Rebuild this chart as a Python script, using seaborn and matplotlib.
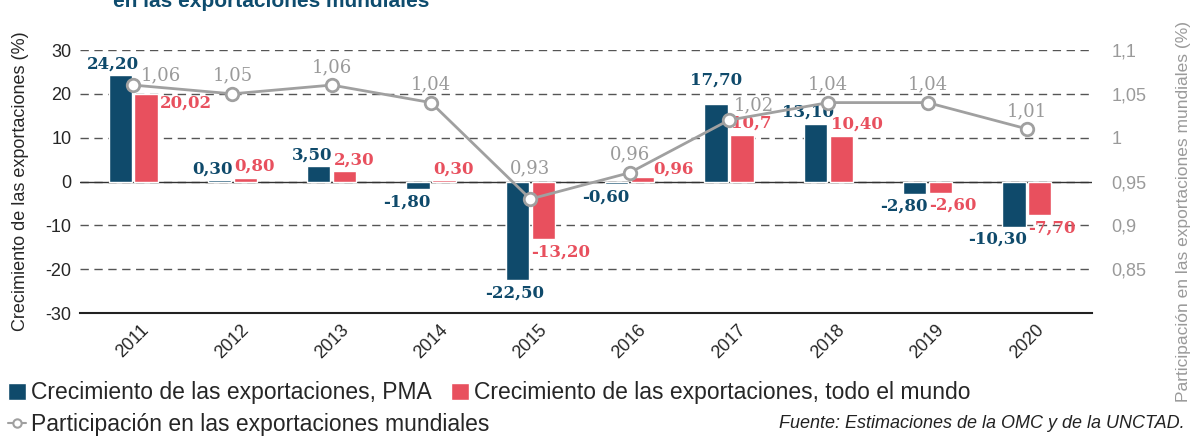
import pandas as pd
import numpy as np
import matplotlib
matplotlib.use("Agg")
import matplotlib.pyplot as plt
import seaborn as sns
from matplotlib.patches import Patch
from matplotlib.lines import Line2D

# Datos
anios = ["2011", "2012", "2013", "2014", "2015", "2016", "2017", "2018", "2019", "2020"]
crec_pma = [24.20, 0.30, 3.50, -1.80, -22.50, -0.60, 17.70, 13.10, -2.80, -10.30]
crec_mundo = [20.02, 0.80, 2.30, 0.30, -13.20, 0.96, 10.7, 10.40, -2.60, -7.70]
etiq_pma = ["24,20", "0,30", "3,50", "-1,80", "-22,50", "-0,60", "17,70", "13,10", "-2,80", "-10,30"]
etiq_mundo = ["20,02", "0,80", "2,30", "0,30", "-13,20", "0,96", "10,7", "10,40", "-2,60", "-7,70"]
participacion = [1.06, 1.05, 1.06, 1.04, 0.93, 0.96, 1.02, 1.04, 1.04, 1.01]
etiq_part = ["1,06", "1,05", "1,06", "1,04", "0,93", "0,96", "1,02", "1,04", "1,04", "1,01"]

serie_pma = "Crecimiento de las exportaciones, PMA"
serie_mundo = "Crecimiento de las exportaciones, todo el mundo"
serie_part = "Participación en las exportaciones mundiales"

AZUL = "#0f4a6b"
ROJO = "#e8505e"
GRIS = "#a0a0a0"
GRIS_TXT = "#9a9a9a"

df = pd.DataFrame({
    "anio": anios * 2,
    "serie": [serie_pma] * len(anios) + [serie_mundo] * len(anios),
    "valor": crec_pma + crec_mundo,
})

sns.set_style("white")
plt.rcParams["font.family"] = ["Liberation Sans", "DejaVu Sans"]

fig = plt.figure(figsize=(11.9, 4.37), dpi=100)
ax = fig.add_axes([80 / 1190, 124 / 437, 1012 / 1190, 263 / 437])

sns.barplot(data=df, x="anio", y="valor", hue="serie", order=anios,
            hue_order=[serie_pma, serie_mundo], palette=[AZUL, ROJO],
            saturation=1, width=0.52, gap=0.1, ax=ax, legend=False, zorder=2)

ax.set_ylim(-30, 30)
ax.set_yticks([-30, -20, -10, 0, 10, 20, 30])
ax.set_yticklabels(["-30", "-20", "-10", "0", "10", "20", "30"])
ax.set_axisbelow(True)
ax.yaxis.grid(True, linestyle=(0, (6, 4)), color="#555555", linewidth=1)
ax.axhline(0, color="#333333", linewidth=1, zorder=1.5)
for s in ["top", "left", "right"]:
    ax.spines[s].set_visible(False)
ax.spines["bottom"].set_color("#222222")
ax.spines["bottom"].set_linewidth(1.5)
ax.tick_params(axis="y", length=0, labelsize=13, pad=6)
ax.tick_params(axis="x", direction="inout", length=8, width=1.5, color="#222222",
               labelsize=13, pad=2, labelrotation=45)
ax.set_xlabel("")
ax.set_ylabel("Crecimiento de las exportaciones (%)", fontsize=13, labelpad=12)

# Etiquetas de barras
cont_pma, cont_mundo = ax.containers[0], ax.containers[1]
fuente_etq = dict(family="DejaVu Serif", fontweight="bold", fontsize=12)

ajuste_pma = {"2017": (7, 12), "2015": (14, 0)}
for i, bar in enumerate(cont_pma):
    v = crec_pma[i]
    dx, dy = ajuste_pma.get(anios[i], (0, 0))
    if v >= 0:
        ax.annotate(etiq_pma[i], (bar.get_x() + bar.get_width() / 2, v),
                    xytext=(-7 + dx, 3 + dy), textcoords="offset pixels",
                    ha="center", va="bottom", color=AZUL, **fuente_etq)
    else:
        ax.annotate(etiq_pma[i], (bar.get_x() + bar.get_width(), v),
                    xytext=(1 + dx, -4 + dy), textcoords="offset pixels",
                    ha="right", va="top", color=AZUL, **fuente_etq)

for i, bar in enumerate(cont_mundo):
    v = crec_mundo[i]
    if anios[i] == "2011":
        ax.annotate(etiq_mundo[i], (bar.get_x() + bar.get_width(), v),
                    xytext=(2, -1), textcoords="offset pixels",
                    ha="left", va="top", color=ROJO, **fuente_etq)
    elif anios[i] == "2016":
        ax.annotate(etiq_mundo[i], (bar.get_x() + bar.get_width(), v),
                    xytext=(-1, 0), textcoords="offset pixels",
                    ha="left", va="bottom", color=ROJO, **fuente_etq)
    elif v >= 0:
        ax.annotate(etiq_mundo[i], (bar.get_x(), v),
                    xytext=(1, 3), textcoords="offset pixels",
                    ha="left", va="bottom", color=ROJO, **fuente_etq)
    else:
        ax.annotate(etiq_mundo[i], (bar.get_x(), v),
                    xytext=(0, -4), textcoords="offset pixels",
                    ha="left", va="top", color=ROJO, **fuente_etq)

# Eje secundario: participación
ax2 = ax.twinx()
sns.lineplot(x=np.arange(len(anios)), y=participacion, ax=ax2, color=GRIS,
             linewidth=2, marker="o", markersize=9, markerfacecolor="white",
             markeredgecolor=GRIS, markeredgewidth=2, zorder=4)
ax2.set_ylim(0.8, 1.1)
ax2.set_yticks([0.85, 0.9, 0.95, 1.0, 1.05, 1.1])
ax2.set_yticklabels(["0,85", "0,9", "0,95", "1", "1,05", "1,1"])
ax2.tick_params(axis="y", length=0, labelsize=13, labelcolor=GRIS_TXT, pad=14)
for s in ax2.spines.values():
    s.set_visible(False)
ax2.set_ylabel("Participación en las exportaciones mundiales (%)", fontsize=12.5,
               color=GRIS_TXT)
ax2.yaxis.set_label_coords(1.083, 0.385)

ajuste_part = {"2011": (28, -8), "2017": (25, -3), "2015": (0, 13)}
for i, p in enumerate(participacion):
    dx, dy = ajuste_part.get(anios[i], (0, 0))
    ax2.annotate(etiq_part[i], (i, p), xytext=(dx, 9 + dy),
                 textcoords="offset pixels", ha="center", va="bottom",
                 color=GRIS_TXT, family="DejaVu Serif", fontsize=13)

ax.set_xlim(-0.534, 9.655)

# Título (recortado en la parte superior, como en el original)
fig.text(0.228, 1 - 7 / 437, "en las exportaciones mundiales", ha="center",
         va="baseline", fontsize=15, fontweight="bold", color="#0e4c6e")

# Leyenda
h1 = [Patch(facecolor=AZUL), Patch(facecolor=ROJO)]
fig.legend(h1, [serie_pma, serie_mundo], loc="center left",
           bbox_to_anchor=(8 / 1190, 1 - 393 / 437), ncol=2, frameon=False,
           fontsize=16.5, handlelength=0.8, handleheight=0.8, handletextpad=0.2,
           columnspacing=0.85, borderaxespad=0, borderpad=0)
h2 = [Line2D([], [], color=GRIS, linewidth=1.5, marker="o", markersize=6,
             markerfacecolor="white", markeredgecolor=GRIS, markeredgewidth=1.5)]
fig.legend(h2, [serie_part], loc="center left",
           bbox_to_anchor=(8 / 1190, 1 - 425 / 437), frameon=False, fontsize=16.5,
           handlelength=0.8, handletextpad=0.2, borderaxespad=0, borderpad=0)

fig.text(1185 / 1190, 1 - 424 / 437, "Fuente: Estimaciones de la OMC y de la UNCTAD.",
         ha="right", va="center", fontsize=13, style="italic", color="#222222")

fig.savefig("out.png", dpi=100)
